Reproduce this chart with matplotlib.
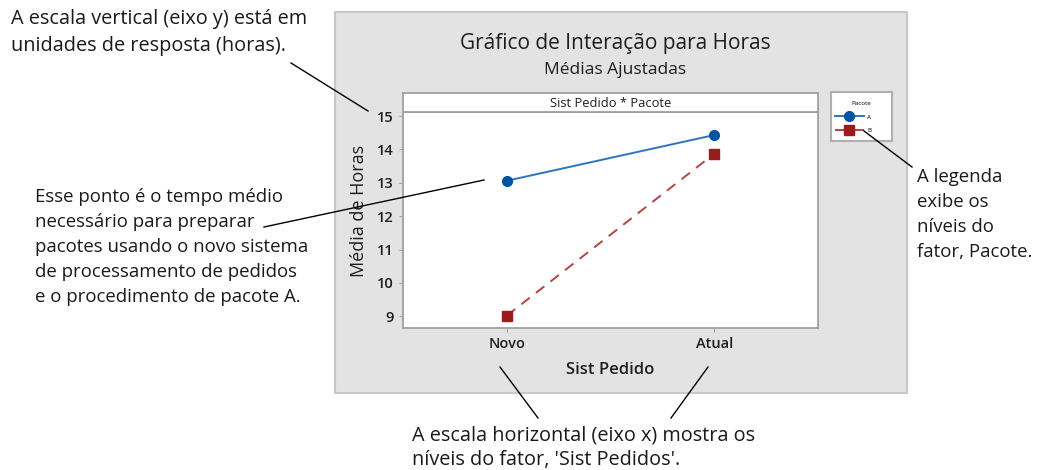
import matplotlib.pyplot as plt
from matplotlib.patches import Rectangle
from matplotlib.lines import Line2D

# --- data ---
sist_pedido = ['Novo', 'Atual']
pacotes = ['A', 'B']
media_horas = {
    'A': [13.06, 14.43],
    'B': [9.02, 13.87],
}
y_ticks = [9, 10, 11, 12, 13, 14, 15]

W, H = 1042, 470
plt.rcParams['font.family'] = ['Open Sans', 'DejaVu Sans']


def fx(px):
    return px / W


def fy(py):
    return 1 - py / H


fig = plt.figure(figsize=(W / 100, H / 100), dpi=100)
fig.patch.set_facecolor('white')

# gray Minitab panel
fig.add_artist(Rectangle((fx(335), fy(393)), fx(907) - fx(335), fy(12) - fy(393),
                         transform=fig.transFigure, facecolor='#e3e3e3',
                         edgecolor='#c8c8c8', linewidth=1.5, zorder=0))

# main axes
ax = fig.add_axes([fx(403), fy(328), fx(818) - fx(403), fy(112) - fy(328)])
ax.set_facecolor('white')
colors = {'A': '#0054a6', 'B': '#9b1a1a'}
line_colors = {'A': '#2f74c0', 'B': '#b24545'}
styles = {'A': dict(marker='o', linestyle='-', markersize=7),
          'B': dict(marker='s', linestyle=(0, (5.5, 4)), markersize=7)}
x = list(range(len(sist_pedido)))
handles = []
for p in pacotes:
    h, = ax.plot(x, media_horas[p], color=line_colors[p], linewidth=1.4,
                 markerfacecolor=colors[p], markeredgecolor=colors[p],
                 label=p, **styles[p])
    handles.append(h)

ax.set_xlim(-0.5, 1.5)
ax.set_ylim(8.65, 15.12)
ax.set_yticks(y_ticks)
ax.set_xticks(x)
ax.set_xticklabels(sist_pedido)
for s in ax.spines.values():
    s.set_color('#a0a0a0')
    s.set_linewidth(1.3)
ax.tick_params(axis='both', colors='#a0a0a0', labelcolor='#1e1e1e',
               labelsize=10.5, length=3)
for lbl in ax.get_xticklabels() + ax.get_yticklabels():
    lbl.set_fontweight('semibold')
ax.set_ylabel('Média de Horas', fontsize=13, color='#1e1e1e')
ax.yaxis.set_label_coords(-0.085, 0.544)
ax.set_xlabel('Sist Pedido', fontsize=12, color='#1e1e1e', labelpad=8,
              fontweight='semibold')

# strip header
sax = fig.add_axes([fx(403), fy(112), fx(818) - fx(403), fy(93) - fy(112)])
sax.set_xticks([])
sax.set_yticks([])
for s in sax.spines.values():
    s.set_color('#a0a0a0')
    s.set_linewidth(1.3)
sax.text(0.5, 0.45, 'Sist Pedido * Pacote', ha='center', va='center',
         fontsize=9.3, color='#1e1e1e', transform=sax.transAxes)

# titles
fig.text(fx(615), fy(43), 'Gráfico de Interação para Horas', ha='center',
         va='center', fontsize=15, color='#1e1e1e')
fig.text(fx(615), fy(70), 'Médias Ajustadas', ha='center', va='center',
         fontsize=12.5, color='#1e1e1e')

# legend box
lax = fig.add_axes([fx(831), fy(141), fx(892) - fx(831), fy(92) - fy(141)])
lax.set_xticks([])
lax.set_yticks([])
for s in lax.spines.values():
    s.set_color('#b0b0b0')
    s.set_linewidth(1.5)
leg = lax.legend(handles=handles, labels=pacotes, title='Pacote',
                 loc='upper left', bbox_to_anchor=(-0.02, 0.93), frameon=False,
                 fontsize=4.5, title_fontsize=4.5, handlelength=4.5,
                 handletextpad=0.6, markerscale=1.0, labelspacing=1.3,
                 alignment='right')

# annotations
big = dict(fontsize=14.3, color='#1a1a1a', linespacing=1.45, va='top', ha='left')
small = dict(fontsize=13.4, color='#1a1a1a', linespacing=1.5, va='top', ha='left')
fig.text(fx(11), fy(9), 'A escala vertical (eixo y) está em\nunidades de resposta (horas).', **big)
fig.text(fx(35), fy(188), 'Esse ponto é o tempo médio\nnecessário para preparar\n'
         'pacotes usando o novo sistema\nde processamento de pedidos\n'
         'e o procedimento de pacote A.', **small)
fig.text(fx(917), fy(168), 'A legenda\nexibe os\nníveis do\nfator, Pacote.', **small)
fig.text(fx(412), fy(425), "A escala horizontal (eixo x) mostra os\nníveis do fator, 'Sist Pedidos'.",
         **{**big, 'linespacing': 1.32})

for (x0, y0), (x1, y1) in [((291, 63), (368, 111)),
                           ((264, 227), (484, 180)),
                           ((912, 167), (864, 131)),
                           ((500, 367), (538, 418)),
                           ((708, 367), (671, 418))]:
    fig.add_artist(Line2D([fx(x0), fx(x1)], [fy(y0), fy(y1)],
                          transform=fig.transFigure, color='black', linewidth=1))

fig.savefig('out.png', dpi=100)
